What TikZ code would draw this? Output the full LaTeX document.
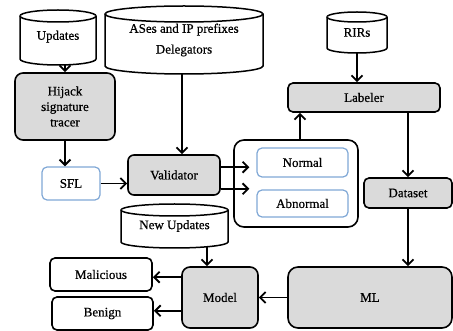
\documentclass[tikz,border=0pt]{standalone}
\usepackage{fontspec}
\setmainfont{Liberation Serif}
\newfontfamily\labelfont{Liberation Serif}[FakeBold=0.6]
\usetikzlibrary{arrows.meta,calc}
\definecolor{boxgray}{RGB}{218,218,218}
\definecolor{boxblue}{RGB}{128,168,214}
% database drum: centre x, x radius, top y, bottom y, end radius (all pt)
\newcommand\drum[5]{%
  \draw[drumline] ({#1-#2},{#3-#5}) -- ({#1-#2},{#4+#5})
    arc[start angle=180,end angle=360,x radius=#2pt,y radius=#5pt]
    -- ({#1+#2},{#3-#5})
    arc[start angle=0,end angle=180,x radius=#2pt,y radius=#5pt] -- cycle;
  \draw[drumline] ({#1-#2},{#3-#5})
    arc[start angle=180,end angle=360,x radius=#2pt,y radius=#5pt];
}
\begin{document}
\begin{tikzpicture}[x=1pt,y=1pt,
  font=\labelfont\fontsize{13}{15.5}\selectfont,
  drumline/.style={draw=black,line width=1.5pt,fill=white},
  drumtext/.style={inner sep=0pt,align=center},
  box/.style={draw=black,line width=1.6pt,rounded corners=6pt,align=center,inner sep=0pt},
  gbox/.style={box,fill=boxgray},
  wbox/.style={box,fill=white},
  bbox/.style={draw=boxblue,line width=1.2pt,rounded corners=5pt,fill=white,align=center,inner sep=0pt},
  arr/.style={line width=1.7pt,-{Straight Barb[length=5.5pt,width=11pt,line width=1.9pt]}}]
\useasboundingbox (0,0) rectangle (453,-331);

% data sources
\drum{58}{38}{-10}{-65}{6}
\node[drumtext,minimum width=76,minimum height=55] (upd) at (58,-37.5) {\raisebox{4.5pt}{Updates}};
\drum{184}{79}{-6}{-74}{8}
\node[drumtext,minimum width=158,minimum height=68] (ases) at (184,-40) {\raisebox{-11pt}{\shortstack{ASes and IP prefixes\\[6pt]Delegators}}};
\drum{357}{30}{-12}{-53}{5}
\node[drumtext,minimum width=60,minimum height=41] (rirs) at (357,-32.5) {\raisebox{-3.5pt}{RIRs}};
\drum{174.5}{53.5}{-204}{-248}{6}
\node[drumtext,minimum width=107,minimum height=44] (newupd) at (174.5,-226) {\raisebox{-2pt}{New Updates}};

% processing blocks
\node[gbox,rounded corners=8pt,minimum width=100,minimum height=67] (hij) at (65,-106.5) {Hijack\\signature\\tracer};
\node[bbox,minimum width=58,minimum height=33] (sfl) at (71,-183.5) {SFL};
\node[gbox,minimum width=92,minimum height=40] (val) at (174,-175) {Validator};
\node[wbox,rounded corners=10pt,minimum width=124,minimum height=87] (grp) at (296,-183.5) {};
\node[bbox,minimum width=91,minimum height=29] (normal) at (302.5,-162.5) {Normal};
\node[bbox,minimum width=91,minimum height=27] (abnormal) at (302.5,-203.5) {Abnormal};
\node[gbox,rounded corners=5pt,minimum width=152,minimum height=29] (lab) at (364,-97.5) {Labeler};
\node[gbox,rounded corners=5pt,minimum width=88,minimum height=30] (dataset) at (408,-193) {Dataset};
\node[gbox,rounded corners=10pt,minimum width=164,minimum height=61] (ml) at (370,-297.5) {ML};
\node[gbox,rounded corners=8pt,minimum width=76,minimum height=61] (model) at (220,-297.5) {Model};
\node[wbox,rounded corners=5pt,minimum width=102,minimum height=33] (mal) at (101,-274.5) {Malicious};
\node[wbox,rounded corners=5pt,minimum width=101,minimum height=33] (ben) at (102.5,-313.5) {Benign};

% connectors
\draw[arr] (upd.south -| hij.north) -- (hij.north);
\draw[arr] (hij.south) -- (hij.south |- sfl.north);
\draw[arr] (sfl.east) -- (sfl.east -| val.west);
\draw[arr] ($(ases.south)+(-2,0)$) coordinate (a1) -- (a1 |- val.north);
\draw[arr] ($(val.north east)+(0,-13)$) coordinate (v1) -- ($(v1 -| normal.west)+(-7,0)$) coordinate (v1e);
\draw[arr] ($(val.south east)+(0,7)$) coordinate (v2) -- ($(v2 -| normal.west)+(-7,0)$) coordinate (v2e);
\draw[arr] ($(grp.north)+(4,0)$) coordinate (g1) -- (g1 |- lab.south);
\draw[arr] (rirs.south) -- (rirs.south |- lab.north);
\draw[arr] (dataset.north |- lab.south) -- (dataset.north);
\draw[arr] (dataset.south) -- (dataset.south |- ml.north);
\draw[arr] (ml.west) -- (model.east);
\draw[arr] ($(newupd.south)+(32.5,1)$) coordinate (n1) -- (n1 |- model.north);
\draw[arr] ($(model.north west)+(0,-11)$) coordinate (m1) -- (m1 -| mal.east);
\draw[arr] ($(model.south west)+(0,18)$) coordinate (m2) -- (m2 -| ben.east);
\end{tikzpicture}
\end{document}
